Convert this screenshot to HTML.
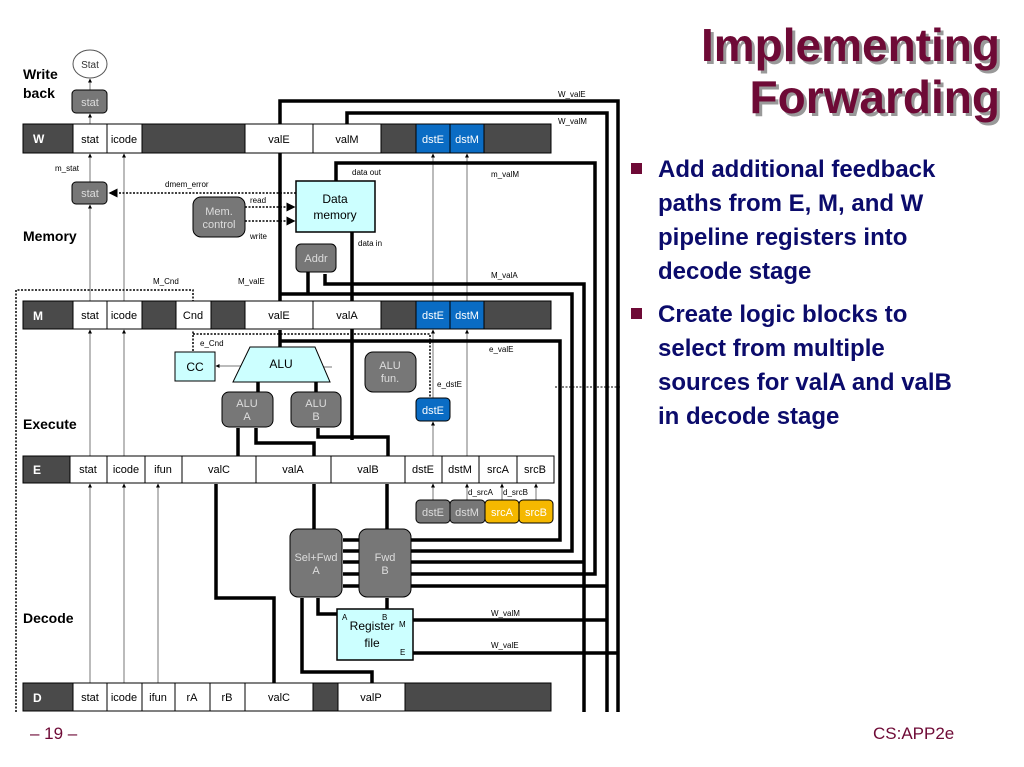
<!DOCTYPE html>
<html><head><meta charset="utf-8"><style>
body{margin:0;width:1024px;height:767px;background:#fff;overflow:hidden;font-family:"Liberation Sans",sans-serif;}
svg{position:absolute;left:0;top:0}
.t{font-family:"Liberation Sans",sans-serif}
</style></head><body>
<svg width="1024" height="767" viewBox="0 0 1024 767">
<defs>
<marker id="a" markerWidth="6" markerHeight="6" refX="5" refY="3" orient="auto"><path d="M0,0L6,3L0,6z" fill="#000"/></marker>
<marker id="b" markerWidth="4" markerHeight="4" refX="3.5" refY="2" orient="auto"><path d="M0,0L4,2L0,4z" fill="#000"/></marker>
</defs>
<g font-family="Liberation Sans" >
<!-- title -->
<g font-weight="bold" font-size="46" text-anchor="end">
<text x="1003" y="64" fill="#999">Implementing</text>
<text x="1000" y="61" fill="#6e0a36">Implementing</text>
<text x="1003" y="116" fill="#999">Forwarding</text>
<text x="1000" y="113" fill="#6e0a36">Forwarding</text>
</g>
<g font-weight="bold" font-size="24" fill="#0b0b6b">
<rect x="631" y="163" width="11" height="11" fill="#6e0a36"/>
<text x="658" y="177">Add additional feedback</text>
<text x="658" y="211">paths from E, M, and W</text>
<text x="658" y="245">pipeline registers into</text>
<text x="658" y="279">decode stage</text>
<rect x="631" y="308" width="11" height="11" fill="#6e0a36"/>
<text x="658" y="322">Create logic blocks to</text>
<text x="658" y="356">select from multiple</text>
<text x="658" y="390">sources for valA and valB</text>
<text x="658" y="424">in decode stage</text>
</g>
<text x="30" y="739" font-size="17" fill="#6e0a36">– 19 –</text>
<text x="873" y="739" font-size="17" fill="#6e0a36">CS:APP2e</text>

<!-- stage labels -->
<g font-weight="bold" font-size="14" fill="#000">
<text x="23" y="79">Write</text><text x="23" y="98">back</text>
<text x="23" y="241">Memory</text>
<text x="23" y="429">Execute</text>
<text x="23" y="623">Decode</text>
</g>

<!-- thin gray vertical lines -->
<g stroke="#777" stroke-width="1" marker-end="url(#b)">
<line x1="90" y1="683" x2="90" y2="484"/><line x1="124" y1="683" x2="124" y2="484"/><line x1="158" y1="683" x2="158" y2="484"/>
<line x1="90" y1="456" x2="90" y2="330"/><line x1="124" y1="456" x2="124" y2="330"/>
<line x1="90" y1="301" x2="90" y2="205"/><line x1="90" y1="182" x2="90" y2="154"/><line x1="124" y1="301" x2="124" y2="154"/>
<line x1="90" y1="124" x2="90" y2="114"/><line x1="90" y1="90" x2="90" y2="79"/>
<line x1="433" y1="301" x2="433" y2="154"/><line x1="467" y1="301" x2="467" y2="154"/>
<line x1="433" y1="398" x2="433" y2="330"/><line x1="467" y1="456" x2="467" y2="330"/>
<line x1="433" y1="456" x2="433" y2="422"/>
<line x1="433" y1="500" x2="433" y2="484"/><line x1="467" y1="500" x2="467" y2="484"/>
<line x1="502" y1="500" x2="502" y2="484"/><line x1="536" y1="500" x2="536" y2="484"/>
<line x1="332" y1="367" x2="318" y2="367"/><line x1="250" y1="366" x2="216" y2="366"/>
</g>

<!-- dotted lines -->
<g stroke="#000" stroke-width="1.5" stroke-dasharray="2,1.5" fill="none">
<polyline points="16,712 16,290 193,290 193,301"/>
<polyline points="193,351 193,330"/>
<polyline points="193,334 430,334 430,398"/>
<polyline points="296,193 110,193" marker-end="url(#a)"/>
<polyline points="245,207 294,207" marker-end="url(#a)"/>
<polyline points="245,221 294,221" marker-end="url(#a)"/>
<line x1="555" y1="387" x2="620" y2="387" stroke-width="1"/>
</g>

<!-- thick data lines -->
<g stroke="#000" stroke-width="3.5" fill="none">
<polyline points="280,301 280,101 618,101 618,712"/>
<polyline points="347,124 347,113 607,113 607,712"/>
<polyline points="336,181 336,163 595,163 595,574 411,574"/>
<polyline points="325,274 325,284 584,284 584,712"/>
<polyline points="280,294 572,294 572,551 411,551"/>
<polyline points="352,301 352,232"/>
<polyline points="308,294 308,272"/>
<polyline points="280,341 560,341 560,540 411,540"/>
<polyline points="584,562 411,562"/>
<polyline points="607,586 411,586"/>
<polyline points="607,620 413,620"/>
<polyline points="618,653 413,653"/>
<polyline points="280,347 280,330"/>
<polyline points="352,329 352,440"/>
<polyline points="258,392 258,382"/><polyline points="316,392 316,382"/>
<polyline points="238,456 238,428"/>
<polyline points="314,456 314,443 256,443 256,428"/>
<polyline points="388,456 388,437 318,437 318,428"/>
<polyline points="314,529 314,484"/>
<polyline points="387,529 387,484"/>
<polyline points="216,484 216,598 274,598 274,683"/>
<polyline points="372,683 372,672 302,672 302,598"/>
<polyline points="337,614 318,614 318,598"/>
<polyline points="387,609 387,598"/>
<line x1="359" y1="540" x2="343" y2="540"/><line x1="359" y1="551" x2="343" y2="551"/><line x1="359" y1="562" x2="343" y2="562"/><line x1="359" y1="574" x2="343" y2="574"/><line x1="359" y1="586" x2="343" y2="586"/>
</g>

<!-- registers -->
<g stroke="#000" stroke-width="1" font-size="11" text-anchor="middle">
<rect x="23" y="124" width="528" height="29" fill="#4a4a4a"/>
<rect x="73" y="124" width="34" height="29" fill="#fff"/><rect x="107" y="124" width="35" height="29" fill="#fff"/>
<rect x="245" y="124" width="68" height="29" fill="#fff"/><rect x="313" y="124" width="68" height="29" fill="#fff"/>
<rect x="416" y="124" width="34" height="29" fill="#0a6cc4"/><rect x="450" y="124" width="34" height="29" fill="#0a6cc4"/>

<rect x="23" y="301" width="528" height="28" fill="#4a4a4a"/>
<rect x="73" y="301" width="34" height="28" fill="#fff"/><rect x="107" y="301" width="35" height="28" fill="#fff"/>
<rect x="176" y="301" width="35" height="28" fill="#fff"/>
<rect x="245" y="301" width="68" height="28" fill="#fff"/><rect x="313" y="301" width="68" height="28" fill="#fff"/>
<rect x="416" y="301" width="34" height="28" fill="#0a6cc4"/><rect x="450" y="301" width="34" height="28" fill="#0a6cc4"/>

<rect x="23" y="456" width="531" height="27" fill="#4a4a4a"/>
<rect x="70" y="456" width="37" height="27" fill="#fff"/><rect x="107" y="456" width="38" height="27" fill="#fff"/><rect x="145" y="456" width="37" height="27" fill="#fff"/>
<rect x="182" y="456" width="74" height="27" fill="#fff"/><rect x="256" y="456" width="75" height="27" fill="#fff"/><rect x="331" y="456" width="74" height="27" fill="#fff"/>
<rect x="405" y="456" width="37" height="27" fill="#fff"/><rect x="442" y="456" width="37" height="27" fill="#fff"/><rect x="479" y="456" width="38" height="27" fill="#fff"/><rect x="517" y="456" width="37" height="27" fill="#fff"/>

<rect x="23" y="683" width="528" height="28" fill="#4a4a4a"/>
<rect x="73" y="683" width="34" height="28" fill="#fff"/><rect x="107" y="683" width="35" height="28" fill="#fff"/><rect x="142" y="683" width="33" height="28" fill="#fff"/>
<rect x="175" y="683" width="35" height="28" fill="#fff"/><rect x="210" y="683" width="35" height="28" fill="#fff"/><rect x="245" y="683" width="68" height="28" fill="#fff"/>
<rect x="338" y="683" width="67" height="28" fill="#fff"/>

<!-- blocks -->
<ellipse cx="90" cy="64" rx="17" ry="14" fill="#fff" stroke="#555"/>
<rect x="72" y="90" width="35" height="23" rx="4" fill="#777"/>
<rect x="72" y="182" width="35" height="22" rx="4" fill="#777"/>
<rect x="193" y="197" width="52" height="40" rx="8" fill="#777"/>
<rect x="296" y="181" width="79" height="51" fill="#ccffff" stroke-width="1.5"/>
<rect x="296" y="244" width="40" height="28" rx="5" fill="#777"/>
<rect x="175" y="352" width="40" height="29" fill="#ccffff"/>
<polygon points="250,347 315,347 330,382 233,382" fill="#ccffff"/>
<rect x="365" y="352" width="51" height="40" rx="8" fill="#777"/>
<rect x="222" y="392" width="51" height="35" rx="7" fill="#777"/>
<rect x="291" y="392" width="50" height="35" rx="7" fill="#777"/>
<rect x="416" y="398" width="34" height="23" rx="4" fill="#0a6cc4"/>
<rect x="416" y="500" width="34" height="23" rx="4" fill="#777"/>
<rect x="450" y="500" width="35" height="23" rx="4" fill="#777"/>
<rect x="485" y="500" width="34" height="23" rx="4" fill="#f5b800"/>
<rect x="519" y="500" width="34" height="23" rx="4" fill="#f5b800"/>
<rect x="290" y="529" width="52" height="68" rx="8" fill="#777"/>
<rect x="359" y="529" width="52" height="68" rx="8" fill="#777"/>
<rect x="337" y="609" width="76" height="51" fill="#ccffff" stroke-width="1.5"/>
</g>

<!-- register text -->
<g font-size="11" text-anchor="middle" fill="#000">
<g fill="#fff" font-weight="bold" font-size="12" text-anchor="start"><text x="33" y="143">W</text><text x="33" y="320">M</text><text x="33" y="474">E</text><text x="33" y="702">D</text></g>
<text x="90" y="143">stat</text><text x="124" y="143">icode</text><text x="279" y="143">valE</text><text x="347" y="143">valM</text>
<text x="433" y="143" fill="#fff">dstE</text><text x="467" y="143" fill="#fff">dstM</text>
<text x="90" y="319">stat</text><text x="124" y="319">icode</text><text x="193" y="319">Cnd</text><text x="279" y="319">valE</text><text x="347" y="319">valA</text>
<text x="433" y="319" fill="#fff">dstE</text><text x="467" y="319" fill="#fff">dstM</text>
<text x="88" y="473">stat</text><text x="126" y="473">icode</text><text x="163" y="473">ifun</text><text x="219" y="473">valC</text><text x="293" y="473">valA</text><text x="368" y="473">valB</text>
<text x="423" y="473">dstE</text><text x="460" y="473">dstM</text><text x="498" y="473">srcA</text><text x="535" y="473">srcB</text>
<text x="90" y="701">stat</text><text x="124" y="701">icode</text><text x="158" y="701">ifun</text><text x="192" y="701">rA</text><text x="227" y="701">rB</text><text x="279" y="701">valC</text><text x="371" y="701">valP</text>
<text x="90" y="68" fill="#333" font-size="10">Stat</text>
<text x="90" y="106" fill="#ddd">stat</text><text x="90" y="197" fill="#ddd">stat</text>
<text x="219" y="215" fill="#ddd">Mem.</text><text x="219" y="228" fill="#ddd">control</text>
<text x="335" y="203" font-size="12">Data</text><text x="335" y="219" font-size="12">memory</text>
<text x="316" y="262" fill="#ddd">Addr</text>
<text x="195" y="371" font-size="12">CC</text>
<text x="281" y="368" font-size="12">ALU</text>
<text x="390" y="369" fill="#ddd">ALU</text><text x="390" y="382" fill="#ddd">fun.</text>
<text x="247" y="407" fill="#ddd">ALU</text><text x="247" y="420" fill="#ddd">A</text>
<text x="316" y="407" fill="#ddd">ALU</text><text x="316" y="420" fill="#ddd">B</text>
<text x="433" y="414" fill="#fff">dstE</text>
<text x="433" y="516" fill="#ddd">dstE</text><text x="467" y="516" fill="#ddd">dstM</text><text x="502" y="516" fill="#fff">srcA</text><text x="536" y="516" fill="#fff">srcB</text>
<text x="316" y="561" fill="#ddd">Sel+Fwd</text><text x="316" y="574" fill="#ddd">A</text>
<text x="385" y="561" fill="#ddd">Fwd</text><text x="385" y="574" fill="#ddd">B</text>
<text x="372" y="630" font-size="12">Register</text><text x="372" y="647" font-size="12">file</text>
</g>
<g font-size="8" fill="#000">
<text x="342" y="620">A</text><text x="382" y="620">B</text><text x="399" y="627">M</text><text x="400" y="655">E</text>
<text x="55" y="171">m_stat</text><text x="165" y="187">dmem_error</text>
<text x="250" y="203">read</text><text x="250" y="239">write</text>
<text x="352" y="175">data out</text><text x="358" y="246">data in</text>
<text x="153" y="284">M_Cnd</text><text x="238" y="284">M_valE</text>
<text x="200" y="346">e_Cnd</text><text x="437" y="387">e_dstE</text>
<text x="468" y="495">d_srcA</text><text x="503" y="495">d_srcB</text>
<text x="558" y="97">W_valE</text><text x="558" y="124">W_valM</text>
<text x="491" y="177">m_valM</text><text x="491" y="278">M_valA</text><text x="489" y="352">e_valE</text>
<text x="491" y="616">W_valM</text><text x="491" y="648">W_valE</text>
</g>
</g>
</svg>
</body></html>
